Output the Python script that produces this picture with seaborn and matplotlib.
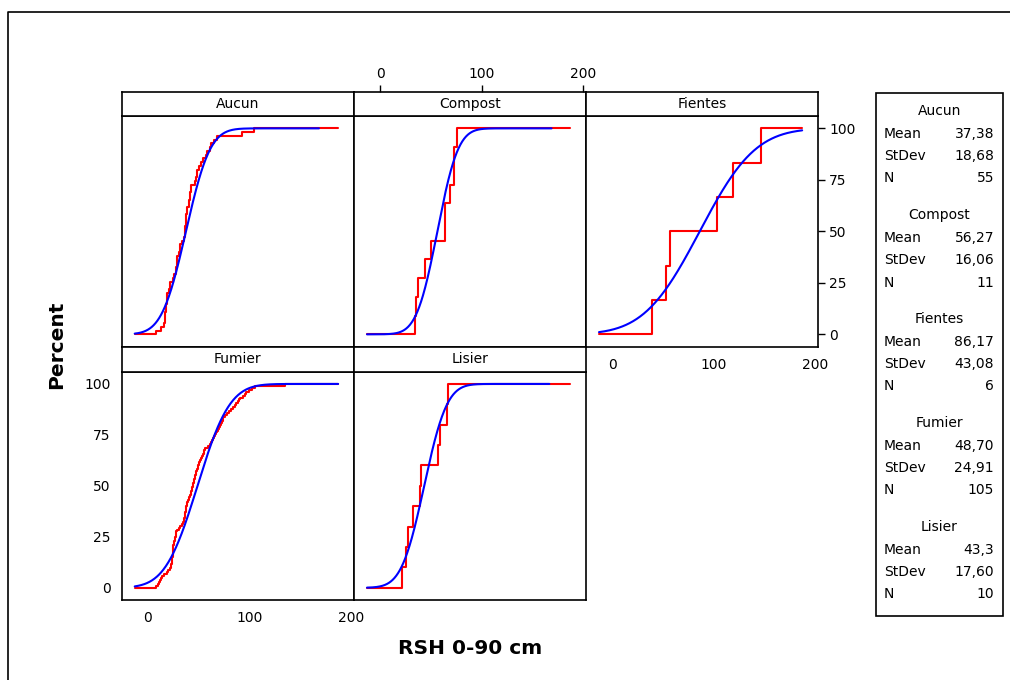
import math

import numpy as np
import pandas as pd
import matplotlib
matplotlib.use("Agg")
import matplotlib.pyplot as plt
from matplotlib.lines import Line2D
from matplotlib.patches import Rectangle
import seaborn as sns

# ---- data -------------------------------------------------------------
groups = ["Aucun", "Compost", "Fientes", "Fumier", "Lisier"]

aucun = [8, 13, 16, 17, 17, 17, 18, 18, 19, 19,
         19, 21, 22, 22, 25, 26, 28, 28, 29, 29,
         29, 31, 32, 32, 33, 35, 36, 36, 36, 37,
         37, 37, 38, 38, 40, 40, 41, 41, 42, 42,
         46, 47, 48, 48, 50, 52, 54, 57, 58, 61,
         62, 65, 68, 92, 104]
compost = [34, 35, 37, 44, 50, 64, 64, 69, 73, 73, 76]
fientes = [39, 53, 57, 103, 119, 146]
fumier = [8, 10, 11, 12, 13, 14, 16, 19, 20, 22,
          23, 23, 24, 24, 24, 24, 25, 25, 25, 25,
          25, 25, 26, 26, 27, 27, 28, 28, 28, 29,
          31, 32, 33, 34, 35, 35, 36, 36, 36, 37,
          37, 37, 38, 38, 39, 40, 40, 41, 42, 42,
          43, 43, 44, 44, 45, 45, 46, 46, 47, 47,
          48, 49, 49, 50, 50, 51, 52, 53, 54, 55,
          55, 56, 59, 61, 62, 63, 64, 65, 66, 67,
          68, 69, 70, 71, 72, 73, 74, 74, 76, 78,
          80, 82, 84, 86, 87, 89, 90, 91, 93, 95,
          96, 99, 102, 105, 135]
lisier = [21, 25, 27, 32, 39, 40, 57, 59, 66, 67]

means = [37.38, 56.27, 86.17, 48.70, 43.3]
stdevs = [18.68, 16.06, 43.08, 24.91, 17.60]
mean_labels = ["37,38", "56,27", "86,17", "48,70", "43,3"]
stdev_labels = ["18,68", "16,06", "43,08", "24,91", "17,60"]

x_ticks = [0, 100, 200]
y_ticks = [0, 25, 50, 75, 100]

samples = dict(zip(groups, [aucun, compost, fientes, fumier, lisier]))

# ---- styling ------------------------------------------------------------
sns.set_style("white")
plt.rcParams["font.family"] = ["DejaVu Sans"]
plt.rcParams.update({"text.color": "black", "axes.labelcolor": "black",
                     "xtick.color": "black", "ytick.color": "black"})

W, H = 1010, 680
fig = plt.figure(figsize=(W / 100, H / 100), dpi=100)

X_LO, X_HI = -13, 187          # range covered by the plotted curves
XLIM = (-25.8, 202.6)
YLIM = (-6.0, 106.0)
FS = 10
LW = 1.2

col_x = [121.7, 354.0, 586.0, 818.0]
strip_top = [92.0, 346.7]
plot_top = [116.0, 371.7]
plot_bot = [346.7, 600.0]

layout = {"Aucun": (0, 0), "Compost": (1, 0), "Fientes": (2, 0),
          "Fumier": (0, 1), "Lisier": (1, 1)}


def px_axes(x0, y0, x1, y1):
    return fig.add_axes([x0 / W, 1 - y1 / H, (x1 - x0) / W, (y1 - y0) / H])


def style_box(ax):
    for sp in ax.spines.values():
        sp.set_visible(True)
        sp.set_color("black")
        sp.set_linewidth(LW)
    ax.tick_params(direction="out", length=5, width=1, colors="black",
                   labelcolor="black", labelsize=FS, pad=3)
    ax.set_xticks([])
    ax.set_yticks([])


def norm_cdf(x, mu, sd):
    return np.array([50.0 * (1.0 + math.erf((v - mu) / (sd * math.sqrt(2.0))))
                     for v in x])


for i, g in enumerate(groups):
    c, r = layout[g]
    vals = np.sort(np.asarray(samples[g], dtype=float))
    n = len(vals)

    ax = px_axes(col_x[c], plot_top[r], col_x[c + 1], plot_bot[r])
    style_box(ax)

    # empirical CDF as a step line, held flat to the ends of the range
    ex = np.concatenate([[X_LO], vals, [X_HI]])
    ey = np.concatenate([[0.0], np.arange(1, n + 1) / n * 100.0, [100.0]])
    ecdf = pd.DataFrame({"x": ex, "pct": ey})
    sns.lineplot(data=ecdf, x="x", y="pct", ax=ax, color="#ff0000",
                 lw=1.5, drawstyle="steps-post", estimator=None, sort=False)

    # fitted normal CDF
    hi = min(X_HI, means[i] + 7 * stdevs[i])
    fx = np.linspace(X_LO, hi, 400)
    fit = pd.DataFrame({"x": fx, "pct": norm_cdf(fx, means[i], stdevs[i])})
    sns.lineplot(data=fit, x="x", y="pct", ax=ax, color="#0000ff", lw=1.5,
                 estimator=None, sort=False)

    ax.set(xlim=XLIM, ylim=YLIM, xlabel="", ylabel="")
    ax.set_xticks([])
    ax.set_yticks([])

    if g == "Fientes":
        ax.set_xticks(x_ticks)
        ax.yaxis.tick_right()
        ax.set_yticks(y_ticks)
    if g == "Fumier":
        ax.set_xticks(x_ticks)
        ax.set_yticks(y_ticks)

    # panel title strip
    st = px_axes(col_x[c], strip_top[r], col_x[c + 1], plot_top[r])
    style_box(st)
    st.set_xlim(XLIM)
    st.text(0.5, 0.5, g, transform=st.transAxes, ha="center", va="center",
            fontsize=FS)
    if g == "Compost":
        st.xaxis.tick_top()
        st.set_xticks(x_ticks)

# axis titles
fig.text(57 / W, 1 - 345 / H, "Percent", rotation=90, ha="center",
         va="center", fontsize=14.5, fontweight="bold")
fig.text(470 / W, 1 - 648 / H, "RSH 0-90 cm", ha="center", va="center",
         fontsize=14.5, fontweight="bold")

# summary box
bx0, by0, bx1, by1 = 876, 93, 1003, 616
fig.add_artist(Rectangle((bx0 / W, 1 - by1 / H), (bx1 - bx0) / W,
                         (by1 - by0) / H, transform=fig.transFigure,
                         fill=False, lw=LW, ec="black"))
for i, g in enumerate(groups):
    y0 = 111 + 104 * i
    fig.text((bx0 + bx1) / 2 / W, 1 - y0 / H, g, ha="center", va="center",
             fontsize=FS)
    rows = [("Mean", mean_labels[i]), ("StDev", stdev_labels[i]),
            ("N", str(len(samples[g])))]
    for k, (lab, val) in enumerate(rows):
        yy = y0 + 22.5 * (k + 1)
        fig.text(884 / W, 1 - yy / H, lab, ha="left", va="center", fontsize=FS)
        fig.text(994 / W, 1 - yy / H, val, ha="right", va="center",
                 fontsize=FS)

# outer frame
fig.add_artist(Line2D([8 / W, 8 / W, 1.0], [0.0, 1 - 12 / H, 1 - 12 / H],
                      transform=fig.transFigure, color="black", lw=LW))

fig.savefig("out.png", dpi=100, facecolor="white")
